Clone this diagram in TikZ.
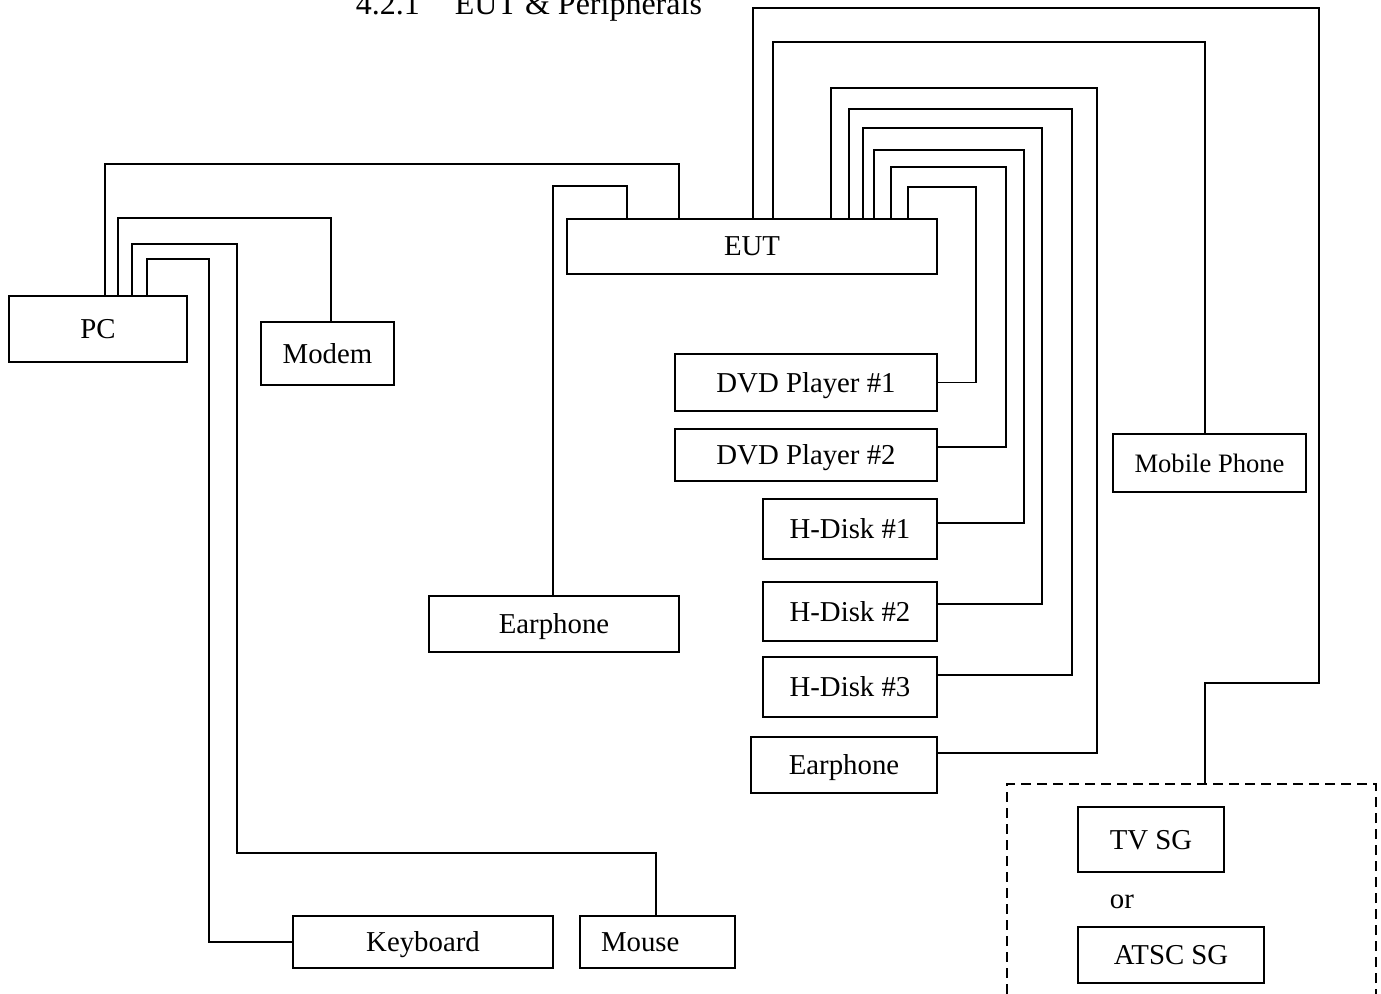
\documentclass[tikz,border=0pt]{standalone}
\usepackage{fontspec}
\setmainfont{Liberation Serif}
\usetikzlibrary{positioning}

\begin{document}
\begin{tikzpicture}[
    x=0.5pt, y=-0.5pt, line width=0.9pt,
    unit/.style={rectangle, draw, inner sep=0pt, text depth=0pt, font=\fontsize{14.4}{17}\selectfont},
]
\useasboundingbox (0,0) rectangle (1381,994);

% title (cut off at the top of the page)
\node[anchor=base west, inner sep=0pt, font=\fontsize{16}{19}\selectfont] (title) at (355,15)
    {4.2.1\hspace{17.5pt}EUT \& Peripherals};

% PC side
\node[unit, minimum width=89pt, minimum height=33pt] (pc) at (98,329) {PC};
\node[unit, minimum width=66.5pt, minimum height=31.5pt] (modem) at (327.5,353.5) {Modem};
\node[unit, minimum width=130pt, minimum height=26pt] (kbd) at (423,942) {Keyboard};
\node[unit, minimum height=26pt, inner xsep=10.5pt, text width=56.5pt, align=left] (mouse) at (657.5,942) {Mouse};

% EUT and its peripherals
\node[unit, minimum width=185pt, minimum height=27.5pt] (eut) at (752,246.5) {EUT};
\node[unit, minimum width=125pt, minimum height=28pt] (ear1) at (554,624) {Earphone};
\node[unit, minimum width=131pt, minimum height=28.5pt] (dvd1) at (806,382.5) {DVD Player \#1};
\node[unit, minimum width=131pt, minimum height=26pt] (dvd2) at (806,455) {DVD Player \#2};
\node[unit, minimum width=87pt, minimum height=30pt] (hd1) at (850,529) {H-Disk \#1};
\node[unit, minimum width=87pt, minimum height=29.5pt] (hd2) at (850,611.5) {H-Disk \#2};
\node[unit, minimum width=87pt, minimum height=30pt] (hd3) at (850,687) {H-Disk \#3};
\node[unit, minimum width=93pt, minimum height=28pt] (ear2) at (844,765) {Earphone};
\node[unit, minimum width=96.5pt, minimum height=29pt, font=\fontsize{13.3}{16}\selectfont] (mob) at (1209.5,463) {Mobile Phone};

% signal generators (dashed group)
\node[draw, dash pattern=on 5pt off 3pt, minimum width=184.5pt, minimum height=115pt, inner sep=0pt] (sgbox) at (1191.5,899) {};
\node[unit, minimum width=73pt, minimum height=32.5pt] (tvsg) at (1151,839.5) {TV SG};
\node[font=\fontsize{14.4}{17}\selectfont, anchor=base west, inner sep=0pt] (or) at (1109,908) {or};
\node[unit, minimum width=93pt, minimum height=28pt] (atsc) at (1171,955) {ATSC SG};

% cables from the PC
\draw (105,0 |- pc.north) |- (679,164) -- (679,0 |- eut.north);
\draw (118,0 |- pc.north) |- (331,218) -- (331,0 |- modem.north);
\draw (132,0 |- pc.north) |- (237,244) |- (656,853) -- (656,0 |- mouse.north);
\draw (147,0 |- pc.north) |- (209,259) |- (kbd.west);

% cables from the EUT
\draw (627,0 |- eut.north) |- (553,186) -- (553,0 |- ear1.north);
\draw (753,0 |- eut.north) |- (1319,8) |- (1205,683) -- (1205,0 |- sgbox.north);
\draw (773,0 |- eut.north) |- (1205,42) -- (1205,0 |- mob.north);
\draw (831,0 |- eut.north) |- (1097,88) |- (ear2.east |- 0,753);
\draw (849,0 |- eut.north) |- (1072,109) |- (hd3.east |- 0,675);
\draw (863,0 |- eut.north) |- (1042,128) |- (hd2.east |- 0,604);
\draw (874,0 |- eut.north) |- (1024,150) |- (hd1.east |- 0,523);
\draw (891,0 |- eut.north) |- (1006,167) |- (dvd2.east |- 0,447);
\draw (908,0 |- eut.north) |- (976,187) |- (dvd1.east);

\end{tikzpicture}
\end{document}
